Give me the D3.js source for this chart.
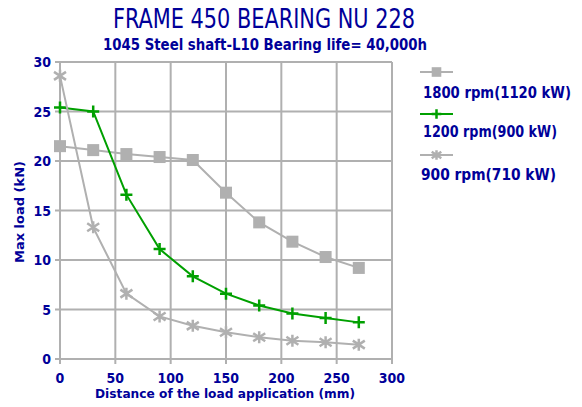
<!DOCTYPE html>
<html>
<head>
<meta charset="utf-8">
<script src="https://cdn.jsdelivr.net/npm/d3@7"></script>
<style>
  body { margin: 0; background: #fff; }
  text { font-family: "DejaVu Sans Condensed", "Liberation Sans", sans-serif; font-weight: bold; fill: #000099; }
</style>
</head>
<body>
<div id="chart"></div>
<script>
// values
var distances = [0, 30, 60, 90, 120, 150, 180, 210, 240, 270];
var load1800 = [21.5, 21.1, 20.7, 20.4, 20.1, 16.8, 13.8, 11.85, 10.3, 9.2];
var load1200 = [25.4, 25.0, 16.6, 11.1, 8.35, 6.6, 5.4, 4.6, 4.15, 3.7];
var load900 = [28.6, 13.3, 6.6, 4.3, 3.35, 2.7, 2.2, 1.85, 1.7, 1.45];
var seriesNames = ["1800 rpm(1120 kW)", "1200 rpm(900 kW)", "900 rpm(710 kW)"];
var xTicks = [0, 50, 100, 150, 200, 250, 300];
var yTicks = [0, 5, 10, 15, 20, 25, 30];

var width = 582, height = 407;
var margin = { top: 62, right: 190, bottom: 48, left: 60 };

var svg = d3.select("#chart").append("svg")
  .attr("width", width)
  .attr("height", height);

var x = d3.scaleLinear().domain([0, 300]).range([margin.left, width - margin.right]);
var y = d3.scaleLinear().domain([0, 30]).range([height - margin.bottom, margin.top]);

var grey = "#b0b0b0";

// grid
var grid = svg.append("g");
grid.selectAll(".vx").data(xTicks).enter().append("line")
  .attr("x1", function(d) { return x(d); }).attr("x2", function(d) { return x(d); })
  .attr("y1", y(0) + 5).attr("y2", y(30))
  .attr("stroke", grey).attr("stroke-width", 2);
grid.selectAll(".hy").data(yTicks).enter().append("line")
  .attr("x1", x(0) - 5).attr("x2", x(300))
  .attr("y1", function(d) { return y(d); }).attr("y2", function(d) { return y(d); })
  .attr("stroke", grey).attr("stroke-width", 2);

// tick labels
svg.append("g").selectAll("text").data(xTicks).enter().append("text")
  .attr("x", function(d) { return x(d); })
  .attr("y", y(0) + 24)
  .attr("text-anchor", "middle")
  .style("font-size", "14px")
  .text(function(d) { return d; });
svg.append("g").selectAll("text").data(yTicks).enter().append("text")
  .attr("x", x(0) - 9)
  .attr("y", function(d) { return y(d) + 5; })
  .attr("text-anchor", "end")
  .style("font-size", "14px")
  .text(function(d) { return d; });

// titles
svg.append("text").attr("x", 264).attr("y", 28)
  .attr("text-anchor", "middle").attr("textLength", 302).attr("lengthAdjust", "spacingAndGlyphs")
  .style("font-size", "26px").style("font-weight", "normal")
  .text("FRAME 450 BEARING NU 228");
svg.append("text").attr("x", 265).attr("y", 50)
  .attr("text-anchor", "middle").attr("textLength", 324).attr("lengthAdjust", "spacingAndGlyphs")
  .style("font-size", "15px")
  .text("1045 Steel shaft-L10 Bearing life= 40,000h");
svg.append("text").attr("x", 225).attr("y", 398)
  .attr("text-anchor", "middle").attr("textLength", 260).attr("lengthAdjust", "spacingAndGlyphs")
  .style("font-size", "12px")
  .text("Distance of the load application (mm)");
svg.append("text")
  .attr("transform", "translate(24,212) rotate(-90)")
  .attr("text-anchor", "middle").attr("textLength", 102).attr("lengthAdjust", "spacingAndGlyphs")
  .style("font-size", "13px")
  .text("Max load (kN)");

// series
var series = [
  { name: seriesNames[0], values: load1800, color: grey, marker: "square" },
  { name: seriesNames[1], values: load1200, color: "#00a000", marker: "plus" },
  { name: seriesNames[2], values: load900, color: grey, marker: "cross" }
];

function drawMarker(g, type, color, cx, cy, small) {
  var s = small ? 0.8 : 1;
  if (type === "square") {
    g.append("rect").attr("x", cx - 6 * s).attr("y", cy - 6 * s)
      .attr("width", 12 * s).attr("height", 12 * s).attr("fill", color);
  } else if (type === "plus") {
    g.append("path").attr("d", "M" + (cx - 6 * s) + "," + cy + "H" + (cx + 6 * s) + "M" + cx + "," + (cy - 6 * s) + "V" + (cy + 6 * s))
      .attr("stroke", color).attr("stroke-width", 2.5).attr("fill", "none");
  } else {
    g.append("path").attr("d", "M" + (cx - 6 * s) + "," + (cy - 4 * s) + "L" + (cx + 6 * s) + "," + (cy + 4 * s) +
        "M" + (cx - 6 * s) + "," + (cy + 4 * s) + "L" + (cx + 6 * s) + "," + (cy - 4 * s) +
        "M" + cx + "," + (cy - 6 * s) + "V" + (cy + 6 * s))
      .attr("stroke", color).attr("stroke-width", 2.5).attr("fill", "none");
  }
}

var line = d3.line()
  .x(function(d, i) { return x(distances[i]); })
  .y(function(d) { return y(d); });

series.forEach(function(s) {
  svg.append("path").datum(s.values)
    .attr("d", line)
    .attr("fill", "none")
    .attr("stroke", s.color)
    .attr("stroke-width", 2);
  var g = svg.append("g");
  s.values.forEach(function(v, i) {
    drawMarker(g, s.marker, s.color, x(distances[i]), y(v));
  });
});

// legend
var legendY = [72, 114, 155];
var legendTextY = [98, 137, 180];
series.forEach(function(s, i) {
  var g = svg.append("g");
  g.append("line").attr("x1", 420).attr("x2", 453)
    .attr("y1", legendY[i]).attr("y2", legendY[i])
    .attr("stroke", s.color).attr("stroke-width", 2);
  drawMarker(g, s.marker, s.color, 436.5, legendY[i], true);
  g.append("text").attr("x", i === 2 ? 421 : 423).attr("y", legendTextY[i])
    .attr("textLength", i === 0 ? 148 : (i === 1 ? 134 : 135)).attr("lengthAdjust", "spacingAndGlyphs")
    .style("font-size", "15px")
    .text(s.name);
});
</script>
</body>
</html>
